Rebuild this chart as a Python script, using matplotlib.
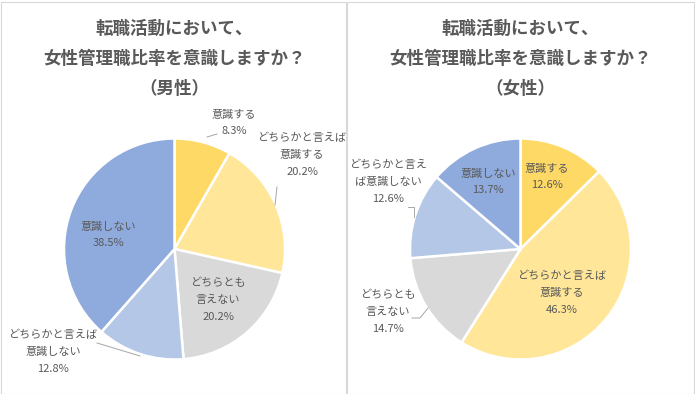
import matplotlib
matplotlib.use("Agg")
import matplotlib.pyplot as plt
from matplotlib.patches import Rectangle

plt.rcParams['font.family'] = ['Noto Sans CJK JP', 'DejaVu Sans']

W, H = 695, 394
DPI = 100

# data
categories = ["意識する", "どちらかと言えば意識する", "どちらとも言えない",
              "どちらかと言えば意識しない", "意識しない"]
male_values = [8.3, 20.2, 20.2, 12.8, 38.5]
female_values = [12.6, 46.3, 14.7, 12.6, 13.7]
colors = ["#FFD966", "#FFE699", "#D9D9D9", "#B4C7E7", "#8FAADC"]

title_lines = ["転職活動において、", "女性管理職比率を意識しますか？"]
male_title = "（男性）"
female_title = "（女性）"

# label text per slice (line breaks as in the source)
male_labels = ["意識する", "どちらかと言えば\n意識する", "どちらとも\n言えない",
               "どちらかと言えば\n意識しない", "意識しない"]
female_labels = ["意識する", "どちらかと言えば\n意識する", "どちらとも\n言えない",
                 "どちらかと言え\nば意識しない", "意識しない"]

TXT = "#595959"


def px_axes(fig, cx, cy, r):
	ax = fig.add_axes([(cx - r) / W, (H - cy - r) / H, 2 * r / W, 2 * r / H])
	ax.set_xlim(-1, 1)
	ax.set_ylim(-1, 1)
	ax.axis('off')
	return ax


def to_data(px, py, cx, cy, r):
	return (px - cx) / r, (cy - py) / r


def draw_panel(fig, cx, cy, r, values, labels, subtitle, label_px, leaders):
	ax = px_axes(fig, cx, cy, r)
	ax.pie(values, colors=colors, startangle=90, counterclock=False, radius=1,
		wedgeprops=dict(edgecolor='white', linewidth=1.8))
	ax.set_xlim(-1, 1)
	ax.set_ylim(-1, 1)
	for lab, v, (px, py) in zip(labels, values, label_px):
		x, y = to_data(px, py, cx, cy, r)
		ax.text(x, y, lab + "\n" + f"{v:.1f}%", ha='center', va='center',
			fontsize=8.0, color=TXT, linespacing=1.85, clip_on=False)
	for pts in leaders:
		xs, ys = zip(*[to_data(p[0], p[1], cx, cy, r) for p in pts])
		ax.plot(xs, ys, color="#A6A6A6", lw=0.7, clip_on=False)
	for i, t in enumerate(title_lines + [subtitle]):
		fig.text(cx / W, 1 - (29 + 30 * i) / H, t, ha='center', va='center',
			fontsize=12.6, fontweight='bold', color=TXT)


fig = plt.figure(figsize=(W / DPI, H / DPI), dpi=DPI)

# panel borders
fig.patches.append(Rectangle((0.5 / W, 0.5 / H), 345 / W, 392 / H, transform=fig.transFigure,
	fill=False, edgecolor="#D9D9D9", lw=0.8))
fig.patches.append(Rectangle((347 / W, 0.5 / H), 347 / W, 392 / H, transform=fig.transFigure,
	fill=False, edgecolor="#D9D9D9", lw=0.8))

draw_panel(fig, 174.5, 249, 110.5, male_values, male_labels, male_title,
	[(234, 123), (302, 155), (218, 300), (53, 352), (108, 235)],
	[[(207, 137), (217, 134)], [(277, 187), (275, 205)], [(97, 343), (140, 356)]])

draw_panel(fig, 520.5, 249, 110.5, female_values, female_labels, female_title,
	[(547, 177), (562, 293), (388, 312), (388, 182), (488, 182)],
	[[(412, 318), (420, 318), (428, 308)], [(408, 207), (414, 207), (414, 217)]])

fig.savefig("out.png", dpi=DPI)
